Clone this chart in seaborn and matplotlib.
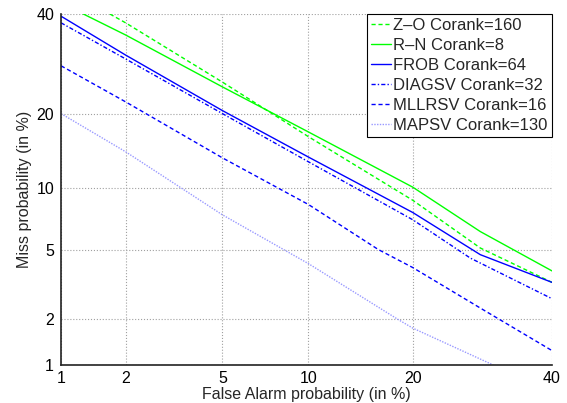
import math
import numpy as np
import pandas as pd
import matplotlib
matplotlib.use("Agg")
import matplotlib.pyplot as plt
import seaborn as sns

# values (percent)
zo_fa = [1.7, 2.0, 5.0, 10.0, 20.0, 28.9, 40.0]
zo_miss = [40.0, 38.0, 25.6, 16.4, 8.8, 5.1, 3.3]

rn_fa = [1.28, 2.0, 5.0, 10.0, 20.0, 28.9, 40.0]
rn_miss = [40.0, 35.3, 24.7, 17.1, 10.1, 6.2, 3.83]

frob_fa = [1.0, 2.0, 5.0, 10.0, 20.0, 28.9, 40.0]
frob_miss = [39.5, 31.0, 20.5, 13.6, 7.7, 4.7, 3.3]

diag_fa = [1.0, 2.0, 5.0, 10.0, 20.0, 27.5, 40.0]
diag_miss = [38.0, 30.2, 20.0, 13.0, 7.1, 4.5, 2.65]

mllr_fa = [1.0, 2.0, 5.0, 10.0, 16.2, 20.0, 28.9, 40.0]
mllr_miss = [28.8, 22.0, 13.5, 8.4, 5.0, 4.0, 2.33, 1.25]

map_fa = [1.0, 2.0, 5.0, 10.0, 18.2, 20.0, 30.8]
map_miss = [20.0, 14.3, 7.5, 4.2, 2.0, 1.75, 1.0]

labels = ["Z\u2013O Corank=160", "R\u2013N Corank=8", "FROB Corank=64",
          "DIAGSV Corank=32", "MLLRSV Corank=16", "MAPSV Corank=130"]
ticks = [1, 2, 5, 10, 20, 40]


def ppf(p):
    # Acklam's approximation of the inverse normal cdf
    p = np.clip(np.asarray(p, dtype=float), 1e-9, 1 - 1e-9)
    a = [-3.969683028665376e+01, 2.209460984245205e+02, -2.759285104469687e+02,
         1.383577518672690e+02, -3.066479806614716e+01, 2.506628277459239e+00]
    b = [-5.447609879822406e+01, 1.615858368580409e+02, -1.556989798598866e+02,
         6.680131188771972e+01, -1.328068155288572e+01]
    c = [-7.784894002430293e-03, -3.223964580411365e-01, -2.400758277161838e+00,
         -2.549732539343734e+00, 4.374664141464968e+00, 2.938163982698783e+00]
    d = [7.784695709041462e-03, 3.224671290700398e-01, 2.445134137142996e+00,
         3.754408661907416e+00]
    plow = 0.02425
    out = np.empty_like(p)
    lo = p < plow
    hi = p > 1 - plow
    mid = ~(lo | hi)
    q = np.sqrt(-2 * np.log(p[lo]))
    out[lo] = (((((c[0]*q+c[1])*q+c[2])*q+c[3])*q+c[4])*q+c[5]) / \
        ((((d[0]*q+d[1])*q+d[2])*q+d[3])*q+1)
    q = np.sqrt(-2 * np.log(1 - p[hi]))
    out[hi] = -(((((c[0]*q+c[1])*q+c[2])*q+c[3])*q+c[4])*q+c[5]) / \
        ((((d[0]*q+d[1])*q+d[2])*q+d[3])*q+1)
    q = p[mid] - 0.5
    r = q * q
    out[mid] = (((((a[0]*r+a[1])*r+a[2])*r+a[3])*r+a[4])*r+a[5])*q / \
        (((((b[0]*r+b[1])*r+b[2])*r+b[3])*r+b[4])*r+1)
    return out


_erf = np.vectorize(math.erf)


def fwd(x):
    return ppf(np.asarray(x, dtype=float) / 100.0)


def inv(z):
    return 100.0 * 0.5 * (1 + _erf(np.asarray(z, dtype=float) / math.sqrt(2)))


sns.set_style("white")
plt.rcParams['font.family'] = ['Liberation Sans', 'DejaVu Sans']

fig = plt.figure(figsize=(5.67, 4.03), dpi=100)
ax = fig.add_axes([0.1076, 0.0943, 0.866, 0.871])

series = [
    (zo_fa, zo_miss, "#00ff00", (0, (3, 2))),
    (rn_fa, rn_miss, "#00ff00", "-"),
    (frob_fa, frob_miss, "#0000ff", "-"),
    (diag_fa, diag_miss, "#0000ff", (0, (3, 1.5, 1, 1.5))),
    (mllr_fa, mllr_miss, "#0000ff", (0, (3, 2))),
    (map_fa, map_miss, "#9999ff", (0, (1, 1))),
]
for (fa, miss, col, ls), lab in zip(series, labels):
    df = pd.DataFrame({"fa": fa, "miss": miss})
    sns.lineplot(data=df, x="fa", y="miss", ax=ax, color=col, linestyle=ls,
                 linewidth=1.0, sort=False, estimator=None, label=lab)

ax.set_xscale("function", functions=(fwd, inv))
ax.set_yscale("function", functions=(fwd, inv))
ax.set_xlim(1, 40)
ax.set_ylim(1, 40)
ax.set_xticks(ticks)
ax.set_yticks(ticks)
ax.set_xticklabels([str(t) for t in ticks])
ax.set_yticklabels([str(t) for t in ticks])
ax.minorticks_off()
ax.tick_params(direction="in", length=4, labelsize=11.5, colors="black")
ax.tick_params(axis="y", pad=5)
ax.tick_params(axis="x", pad=4)
ax.grid(True, linestyle=":", color="#a0a0a0", linewidth=0.8)
for s in ["top", "right"]:
    ax.spines[s].set_visible(False)
for s in ["left", "bottom"]:
    ax.spines[s].set_color("#222222")
    ax.spines[s].set_linewidth(1.2)

ax.set_xlabel("False Alarm probability (in %)", fontsize=11.5, labelpad=1)
ax.set_ylabel("Miss probability (in %)", fontsize=11.5, labelpad=3)

leg = ax.legend(loc="upper right", fontsize=12, frameon=True, fancybox=False,
                borderpad=0.25, labelspacing=0.3, handlelength=1.2,
                handletextpad=0.15, borderaxespad=0.0)
leg.get_frame().set_edgecolor("black")
leg.get_frame().set_linewidth(0.8)
leg.get_frame().set_alpha(1.0)

fig.savefig("out.png", dpi=100)
